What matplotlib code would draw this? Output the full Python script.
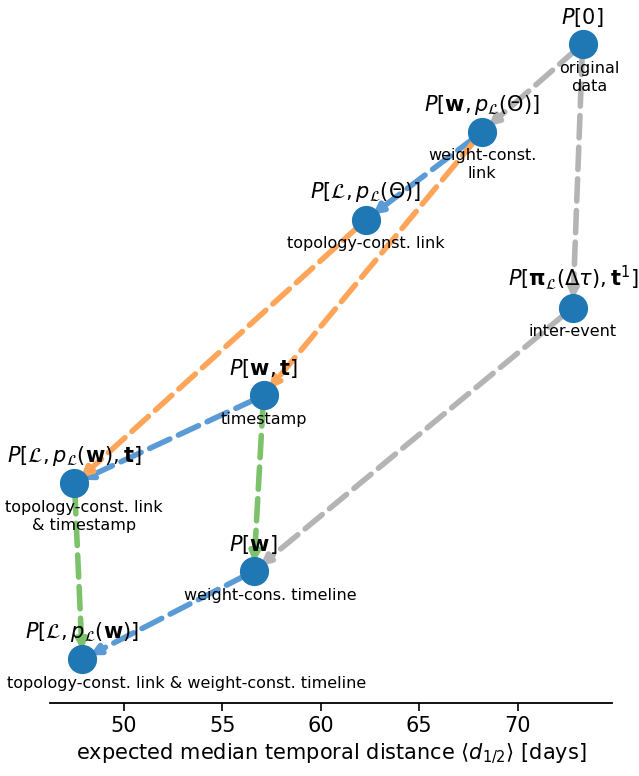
import matplotlib
matplotlib.use("Agg")
import matplotlib.pyplot as plt

# data
names = ["P0", "Pw_pL", "PL_pL", "Ppi", "Pwt", "PL_pw_t", "Pw", "PL_pw"]
xvals = [73.3, 68.2, 62.3, 72.8, 57.1, 47.5, 56.6, 47.9]
yrank = [8, 7, 6, 5, 4, 3, 2, 1]
top_labels = [
    r"$P[0]$",
    r"$P[\mathbf{w}, p_\mathcal{L}(\Theta)]$",
    r"$P[\mathcal{L}, p_\mathcal{L}(\Theta)]$",
    r"$P[\mathbf{\pi}_\mathcal{L}(\Delta\tau), \mathbf{t}^1]$",
    r"$P[\mathbf{w}, \mathbf{t}]$",
    r"$P[\mathcal{L}, p_\mathcal{L}(\mathbf{w}), \mathbf{t}]$",
    r"$P[\mathbf{w}]$",
    r"$P[\mathcal{L}, p_\mathcal{L}(\mathbf{w})]$",
]
bottom_labels = [
    "original\ndata",
    "weight-const.\nlink",
    "topology-const. link",
    "inter-event",
    "timestamp",
    "topology-const. link\n& timestamp",
    "weight-cons. timeline",
    "topology-const. link & weight-const. timeline",
]
bottom_dx = [5, 0, 0, 0, 0, 7, 12, 75]
# edges: (source, target, color)
edges = [
    ("P0", "Pw_pL", "gray"),
    ("P0", "Ppi", "gray"),
    ("Ppi", "Pw", "gray"),
    ("Pw_pL", "PL_pL", "blue"),
    ("Pwt", "PL_pw_t", "blue"),
    ("Pw", "PL_pw", "blue"),
    ("PL_pL", "PL_pw_t", "orange"),
    ("Pw_pL", "Pwt", "orange"),
    ("Pwt", "Pw", "green"),
    ("PL_pw_t", "PL_pw", "green"),
]
edge_colors = {"gray": "#b4b4b4", "blue": "#5b9bd5", "orange": "#ffa55a", "green": "#7cc26a"}

fig = plt.figure(figsize=(6.39, 7.76), dpi=100)
ax = fig.add_axes([0.078, 0.094, 0.88, 0.906])

pos = {n: (x, y) for n, x, y in zip(names, xvals, yrank)}
for s, t, c in edges:
    ax.annotate("", xy=pos[t], xytext=pos[s],
                arrowprops=dict(arrowstyle="-|>", color=edge_colors[c], lw=4.0,
                                ls=(0, (4.0, 1.7)), shrinkA=6, shrinkB=6, mutation_scale=14),
                zorder=1)

ax.plot(xvals, yrank, "o", color="#1f77b4", markersize=20, ls="none", zorder=3)

for x, y, tl, bl, dx in zip(xvals, yrank, top_labels, bottom_labels, bottom_dx):
    ax.annotate(tl, (x, y), xytext=(0, 11), textcoords="offset points",
                ha="center", va="bottom", fontsize=15, zorder=4)
    ax.annotate(bl, (x, y), xytext=(dx, -12), textcoords="offset points",
                ha="center", va="top", fontsize=11.5, zorder=4, linespacing=1.25)

ax.set_xlim(46.25, 74.8)
ax.set_ylim(0.5, 8.5)
ax.set_xticks([50, 55, 60, 65, 70])
ax.tick_params(axis="x", labelsize=15, width=1.2, length=6)
ax.set_yticks([])
for sp in ["left", "right", "top"]:
    ax.spines[sp].set_visible(False)
ax.spines["bottom"].set_linewidth(1.3)
ax.set_xlabel(r"expected median temporal distance $\langle d_{1/2}\rangle$ [days]", fontsize=15)

fig.savefig("out.png", dpi=100)
